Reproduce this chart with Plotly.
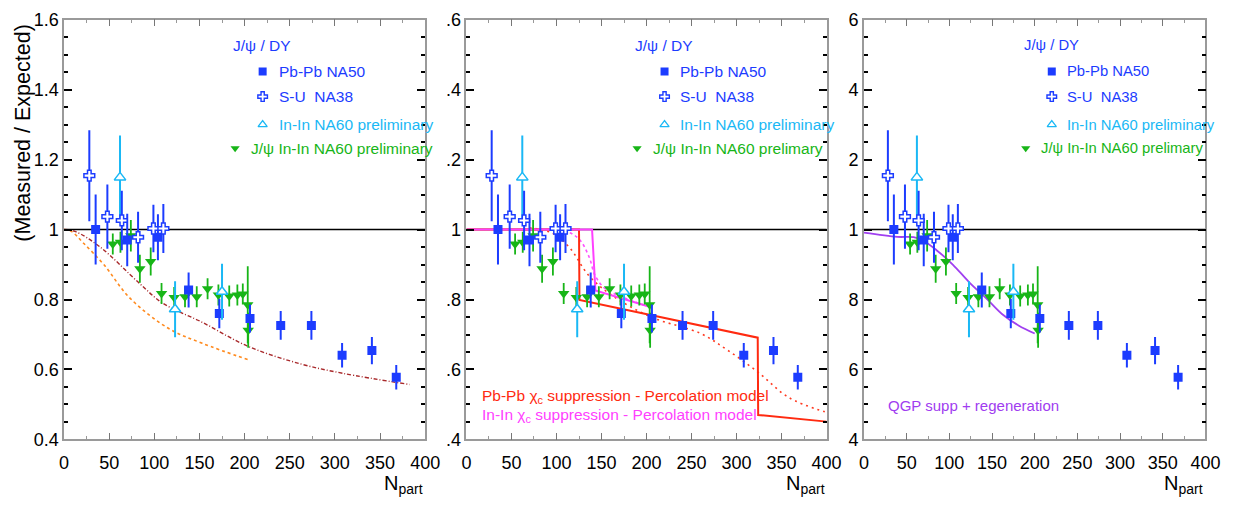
import plotly.graph_objects as go

# ---------------- data ----------------
# Pb-Pb NA50 (J/psi / DY, measured over expected)
npart_na50 = [35, 70, 104, 138, 172, 206, 240, 274, 308, 341, 368]
ratio_na50 = [1.00, 0.97, 0.978, 0.827, 0.76, 0.746, 0.726, 0.726, 0.641, 0.654, 0.578]
err_na50 = [0.10, 0.075, 0.066, 0.05, 0.042, 0.04, 0.041, 0.041, 0.035, 0.039, 0.035]

# S-U NA38
npart_na38 = [28, 48, 64, 82, 99, 110]
ratio_na38 = [1.154, 1.037, 1.026, 0.978, 1.003, 1.003]
err_na38 = [0.13, 0.092, 0.085, 0.073, 0.068, 0.07]

# In-In NA60 preliminary (J/psi / DY)
npart_na60dy = [62, 123, 175]
ratio_na60dy = [1.149, 0.772, 0.822]
err_na60dy = [0.12, 0.08, 0.08]

# J/psi In-In NA60 preliminary
npart_na60 = [54, 62.5, 74, 84, 96, 108, 122, 134, 147, 159, 171, 183, 192, 198, 203.5, 204]
ratio_na60 = [0.959, 0.964, 0.982, 0.888, 0.909, 0.817, 0.806, 0.808, 0.808, 0.831,
              0.813, 0.81, 0.813, 0.816, 0.785, 0.712]
err_na60 = [0.03, 0.03, 0.045, 0.04, 0.04, 0.03, 0.03, 0.03, 0.03, 0.03,
            0.03, 0.03, 0.03, 0.03, 0.11, 0.05]

# Panel 1 model curves
npart_nucl = [0, 12, 40, 84, 109, 153, 204, 262, 309, 383]
ratio_nucl = [1.0, 0.995, 0.95, 0.845, 0.79, 0.735, 0.666, 0.616, 0.589, 0.557]
npart_nucl_inin = [0, 8, 22, 44, 73, 116, 153, 205]
ratio_nucl_inin = [1.0, 0.995, 0.96, 0.9, 0.804, 0.717, 0.675, 0.627]

# Panel 2 percolation model
npart_perc_pb = [0, 125, 125.5, 323.5, 324, 400]
ratio_perc_pb = [1.0, 1.0, 0.799, 0.691, 0.47, 0.451]
npart_perc_in = [0, 139.5, 143.2, 201.5]
ratio_perc_in = [1.0, 1.0, 0.826, 0.781]
npart_perc_pb_smooth = [70, 95, 114, 136, 161, 205, 260, 289, 323.5, 358, 398]
ratio_perc_pb_smooth = [1.005, 0.99, 0.95, 0.868, 0.813, 0.75, 0.703, 0.657, 0.593, 0.52, 0.479]
npart_perc_in_smooth = [75, 110, 125, 136, 143, 154, 172, 201.5]
ratio_perc_in_smooth = [1.0, 0.995, 0.973, 0.923, 0.868, 0.831, 0.808, 0.78]

# Panel 3 QGP suppression + regeneration
npart_qgp = [0, 39, 58, 69.5, 85, 104, 123, 143, 162, 181, 200]
ratio_qgp = [0.991, 0.979, 0.978, 0.968, 0.941, 0.9, 0.85, 0.804, 0.758, 0.726, 0.703]

# axis ticks
xtick_vals = [0, 50, 100, 150, 200, 250, 300, 350, 400]
ytick_vals = [0.4, 0.6, 0.8, 1.0, 1.2, 1.4, 1.6]
ytick_text = [
    ["0.4", "0.6", "0.8", "1", "1.2", "1.4", "1.6"],
    [".4", ".6", ".8", "1", ".2", ".4", ".6"],
    ["4", "6", "8", "1", "2", "4", "6"],
]

# ---------------- style ----------------
BLUE = "#1c3cff"
LIGHTBLUE = "#1ab8f5"
GREEN = "#17b517"
FONT = "Arial, Liberation Sans, Helvetica, sans-serif"

W, H = 1246, 510
panels_px = [(60, 427), (469, 835), (873, 1220)]
ytop_px, ybot_px = 10, 447

fig = go.Figure()


def add_data(k):
    xa = "x" if k == 1 else f"x{k}"
    ya = "y" if k == 1 else f"y{k}"
    fig.add_trace(go.Scatter(
        x=npart_na60, y=ratio_na60, mode="markers", xaxis=xa, yaxis=ya,
        marker=dict(symbol="triangle-down", size=10, color=GREEN),
        error_y=dict(type="data", array=err_na60, width=0, thickness=1.8, color=GREEN),
        showlegend=False))
    fig.add_trace(go.Scatter(
        x=npart_na50, y=ratio_na50, mode="markers", xaxis=xa, yaxis=ya,
        marker=dict(symbol="square", size=9, color=BLUE),
        error_y=dict(type="data", array=err_na50, width=0, thickness=2, color=BLUE),
        showlegend=False))
    fig.add_trace(go.Scatter(
        x=npart_na60dy, y=ratio_na60dy, mode="markers", xaxis=xa, yaxis=ya,
        marker=dict(symbol="triangle-up", size=10, color="white",
                    line=dict(color=LIGHTBLUE, width=1.5)),
        error_y=dict(type="data", array=err_na60dy, width=0, thickness=2, color=LIGHTBLUE),
        showlegend=False))
    fig.add_trace(go.Scatter(
        x=npart_na38, y=ratio_na38, mode="markers", xaxis=xa, yaxis=ya,
        marker=dict(symbol="cross", size=9, color="white",
                    line=dict(color=BLUE, width=1.5)),
        error_y=dict(type="data", array=err_na38, width=0, thickness=2, color=BLUE),
        showlegend=False))


def add_legend(k, jpsi_label, fsize):
    xa = "x" if k == 1 else f"x{k}"
    ya = "y" if k == 1 else f"y{k}"
    keys = [
        (220, 1.452, dict(symbol="square", size=8, color=BLUE)),
        (220, 1.380, dict(symbol="cross", size=8, color="white", line=dict(color=BLUE, width=1.4))),
        (220, 1.300, dict(symbol="triangle-up", size=8, color="white",
                          line=dict(color=LIGHTBLUE, width=1.3))),
        (189.5, 1.232, dict(symbol="triangle-down", size=8, color=GREEN)),
    ]
    for kx, ky, mk in keys:
        fig.add_trace(go.Scatter(x=[kx], y=[ky], mode="markers", xaxis=xa, yaxis=ya,
                                 marker=mk, showlegend=False, hoverinfo="skip"))
    texts = [
        (185, 1.526, "J/\u03c8 / DY", BLUE),
        (235.5, 1.452, "Pb-Pb NA50", BLUE),
        (235.5, 1.380, "S-U\u00a0 NA38", BLUE),
        (235.5, 1.300, "In-In NA60 preliminary", LIGHTBLUE),
        (205, 1.232, jpsi_label, GREEN),
    ]
    for tx, ty, t, c in texts:
        fig.add_annotation(x=tx, y=ty, xref=xa, yref=ya, text=t, showarrow=False,
                           xanchor="left", yanchor="middle",
                           font=dict(family=FONT, size=fsize, color=c))


# ---- panel 1 ----
fig.add_trace(go.Scatter(x=npart_nucl, y=ratio_nucl, mode="lines", xaxis="x", yaxis="y",
                         line=dict(color="#a8282a", width=1.4, dash="4px,2px,1px,2px", shape="spline"),
                         showlegend=False))
fig.add_trace(go.Scatter(x=npart_nucl_inin, y=ratio_nucl_inin, mode="lines", xaxis="x", yaxis="y",
                         line=dict(color="#ff8a1e", width=1.6, dash="dot", shape="spline"),
                         showlegend=False))
add_data(1)
add_legend(1, "J/\u03c8 In-In NA60 preliminary", 15.5)

# ---- panel 2 ----
fig.add_trace(go.Scatter(x=npart_perc_pb_smooth, y=ratio_perc_pb_smooth, mode="lines",
                         xaxis="x2", yaxis="y2",
                         line=dict(color="#ff3a20", width=1.6, dash="2px,4px", shape="spline"),
                         showlegend=False))
fig.add_trace(go.Scatter(x=npart_perc_in_smooth, y=ratio_perc_in_smooth, mode="lines",
                         xaxis="x2", yaxis="y2",
                         line=dict(color="#ff50ff", width=1.6, dash="dot", shape="spline"),
                         showlegend=False))
fig.add_trace(go.Scatter(x=npart_perc_pb, y=ratio_perc_pb, mode="lines", xaxis="x2", yaxis="y2",
                         line=dict(color="#ff2a10", width=2), showlegend=False))
fig.add_trace(go.Scatter(x=npart_perc_in, y=ratio_perc_in, mode="lines", xaxis="x2", yaxis="y2",
                         line=dict(color="#ff40ff", width=2), showlegend=False))
add_data(2)
add_legend(2, "J/\u03c8 In-In NA60 prelimary", 15.5)
fig.add_annotation(x=15.3, y=0.524, xref="x2", yref="y2", showarrow=False,
                   xanchor="left", yanchor="middle",
                   text="Pb-Pb \u03c7<sub>c</sub> suppression - Percolation model",
                   font=dict(family=FONT, size=15.5, color="#ff2a10"))
fig.add_annotation(x=15.3, y=0.469, xref="x2", yref="y2", showarrow=False,
                   xanchor="left", yanchor="middle",
                   text="In-In \u03c7<sub>c</sub> suppression - Percolation model",
                   font=dict(family=FONT, size=15.5, color="#ff40ff"))

# ---- panel 3 ----
fig.add_trace(go.Scatter(x=npart_qgp, y=ratio_qgp, mode="lines", xaxis="x3", yaxis="y3",
                         line=dict(color="#a040f0", width=1.8, shape="spline"), showlegend=False))
add_data(3)
add_legend(3, "J/\u03c8 In-In NA60 prelimary", 14.8)
fig.add_annotation(x=25.4, y=0.497, xref="x3", yref="y3", showarrow=False,
                   xanchor="left", yanchor="middle", text="QGP supp + regeneration",
                   font=dict(family=FONT, size=15, color="#a03cf0"))

# reference line at unity in every panel
for k in (1, 2, 3):
    xa = "x" if k == 1 else f"x{k}"
    ya = "y" if k == 1 else f"y{k}"
    fig.add_shape(type="line", xref=f"{xa} domain", yref=ya, x0=0, x1=1, y0=1, y1=1,
                  line=dict(color="black", width=1.6), layer="below")

# ---------------- axes ----------------
ydom = [1 - ybot_px / H, 1 - ytop_px / H]
layout_axes = {}
for i, (l, r) in enumerate(panels_px, start=1):
    xname = "xaxis" if i == 1 else f"xaxis{i}"
    yname = "yaxis" if i == 1 else f"yaxis{i}"
    yref = "y" if i == 1 else f"y{i}"
    xref = "x" if i == 1 else f"x{i}"
    layout_axes[xname] = dict(
        domain=[l / W, r / W], range=[0, 400], anchor=yref,
        tickmode="array", tickvals=xtick_vals,
        ticks="inside", ticklen=7, tickcolor="#777", tickwidth=1,
        showline=True, linecolor="#9a9a9a", linewidth=1.5, mirror="ticks",
        showgrid=False, zeroline=False, ticklabelstandoff=6,
        tickfont=dict(family=FONT, size=18, color="black"),
        minor=dict(ticks="inside", dtick=25, tick0=0, ticklen=4, tickcolor="#999", showgrid=False),
    )
    layout_axes[yname] = dict(
        domain=ydom, range=[0.4, 1.6], anchor=xref,
        tickmode="array", tickvals=ytick_vals, ticktext=ytick_text[i - 1],
        ticks="inside", ticklen=8, tickcolor="black", tickwidth=1.5,
        showline=True, linecolor="#9a9a9a", linewidth=1.5, mirror="ticks",
        showgrid=False, zeroline=False,
        tickfont=dict(family=FONT, size=18, color="black"),
        minor=dict(ticks="inside", dtick=0.05, tick0=0.4, ticklen=4, tickcolor="black",
                   tickwidth=1.5, showgrid=False),
    )

# N_part axis titles
for l, r in panels_px:
    fig.add_annotation(x=r / W, y=1 - 509 / H, xref="paper", yref="paper", showarrow=False,
                       xanchor="right", yanchor="bottom", text="N<sub>part</sub>",
                       font=dict(family=FONT, size=20, color="black"))

fig.add_annotation(x=18 / W, y=1 - 128 / H, xref="paper", yref="paper", showarrow=False,
                   xanchor="center", yanchor="middle", textangle=-90,
                   text="(Measured / Expected)",
                   font=dict(family=FONT, size=21.5, color="black"))

fig.update_layout(
    width=W, height=H, margin=dict(l=0, r=0, t=0, b=0),
    paper_bgcolor="white", plot_bgcolor="white",
    showlegend=False, **layout_axes,
)

fig.write_html("out.html")
